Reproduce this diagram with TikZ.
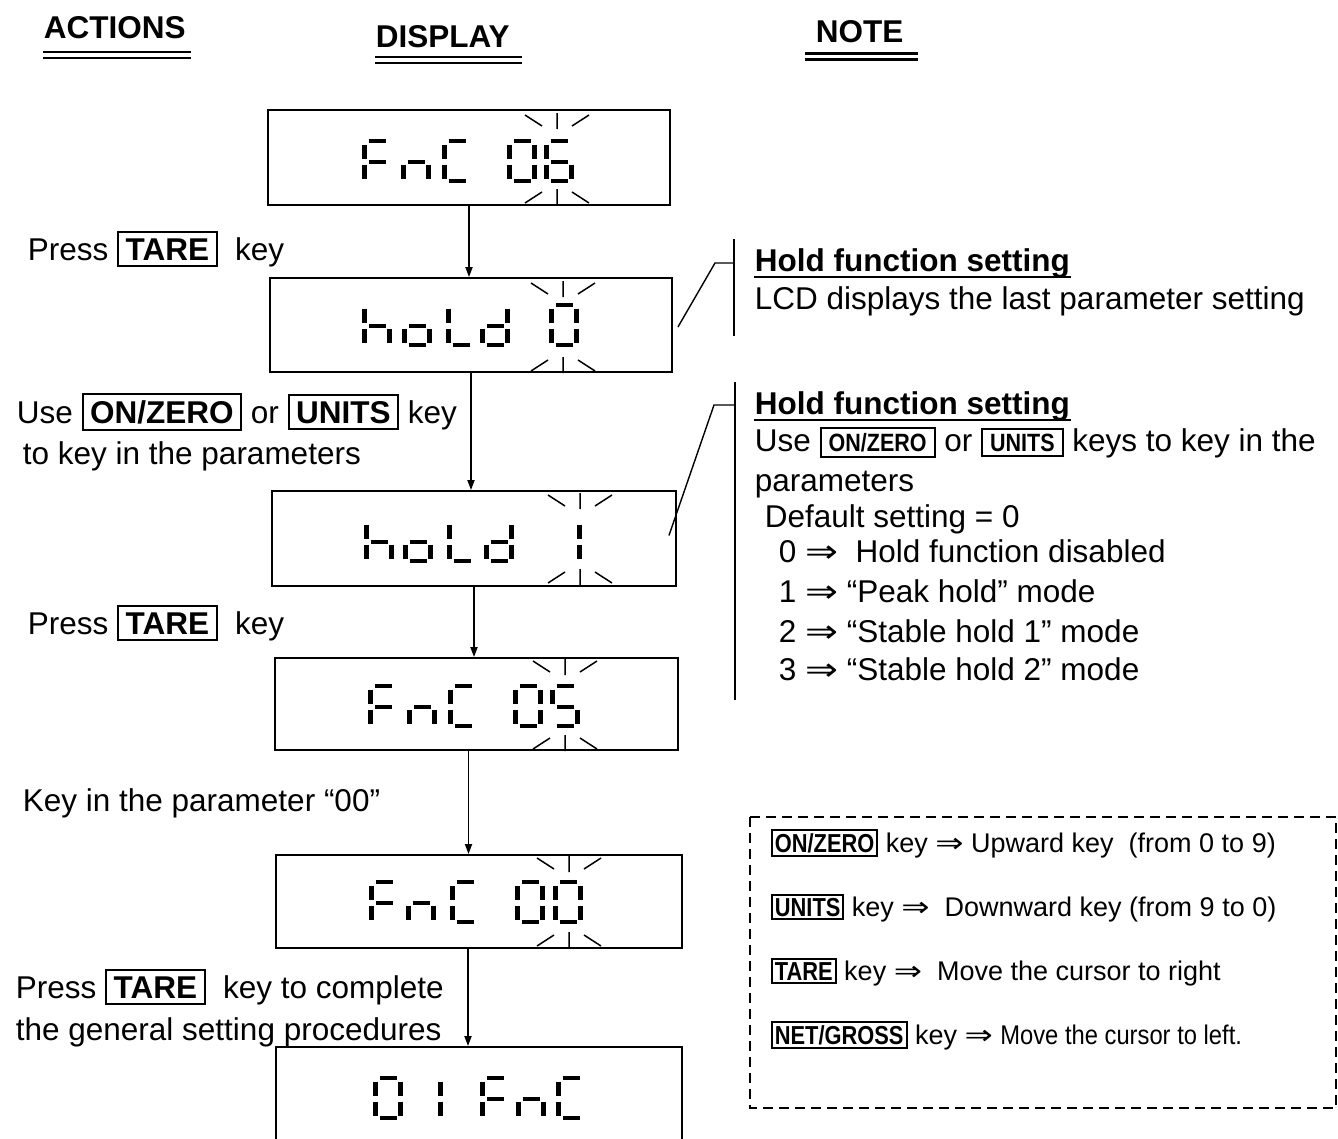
\documentclass[tikz,border=0pt]{standalone}
\usepackage{fontspec}
\setmainfont{Liberation Sans}
\newfontfamily\symfont{DejaVu Sans}
\usetikzlibrary{arrows.meta}

\newcommand{\impl}{{\symfont\scalebox{1.25}[1]{⇒}}}
\newcommand{\keyb}[1]{{\setlength{\fboxsep}{5pt}\setlength{\fboxrule}{2pt}\fbox{\hspace{1.5pt}\textbf{#1}\hspace{1.5pt}}}}
\newcommand{\keyn}[1]{{\fontsize{25}{25}\selectfont\setlength{\fboxsep}{4pt}\setlength{\fboxrule}{2pt}\fbox{\hspace{3pt}\scalebox{0.86}[1]{\textbf{#1}}\hspace{3pt}}}}
\newcommand{\keyl}[1]{{\fontsize{26}{26}\selectfont\setlength{\fboxsep}{2pt}\setlength{\fboxrule}{2pt}\fbox{\scalebox{0.84}[1]{\textbf{#1}}}}}
\newcommand{\lcdchar}[3]{\foreach \s in {#3}{\pic at (#1,#2) {seg\s};}}

\tikzset{
  seg/.style={line width=4.5pt},
  sega/.pic={\draw[seg] (-8.5,-20) -- (8.5,-20);},
  segb/.pic={\draw[seg] (12.5,-16.5) -- (12.5,-2.5);},
  segc/.pic={\draw[seg] (12.5,3.5) -- (12.5,17.5);},
  segd/.pic={\draw[seg] (-8.5,20) -- (8.5,20);},
  sege/.pic={\draw[seg] (-12.5,3.5) -- (-12.5,17.5);},
  segf/.pic={\draw[seg] (-12.5,-16.5) -- (-12.5,-2.5);},
  segg/.pic={\draw[seg] (-8.5,1) -- (8.5,1);},
  blink/.pic={\draw[line width=1.5pt] (-32,-44) -- (-15,-33) (0,-46) -- (0,-30) (15,-33) -- (32,-44)
    (-32,44) -- (-15,33) (0,46) -- (0,30) (15,33) -- (32,44);}
}

\begin{document}
\begin{tikzpicture}[x=1pt,y=-1pt,line width=1.8pt,
  txt/.style={anchor=base west,inner sep=0pt,font=\fontsize{31.5}{36}\selectfont},
  head/.style={anchor=base west,inner sep=0pt,font=\fontsize{31.5}{36}\selectfont\bfseries},
  leg/.style={anchor=base west,inner sep=0pt,font=\fontsize{27}{30}\selectfont},
  lcd/.style={draw,line width=1.9pt,minimum width=402pt,inner sep=0pt},
  flow/.style={-{Triangle[length=10pt,width=7pt]}},
  dbl/.style={double,double distance=3.5pt,line width=2.4pt},
  callout/.style={line width=1.4pt}]
  \useasboundingbox (0,0) rectangle (1338,1138);
  \node[head] (hact) at (43,38) {ACTIONS};
  \node[head] (hdis) at (375,47) {DISPLAY};
  \node[head] (hnot) at (815,42) {NOTE};
  \draw[dbl] (43,55) -- (191,55);
  \draw[dbl] (375,60) -- (522,60);
  \draw[dbl] (805,56.5) -- (918,56.5);

  \node[lcd,minimum height=95pt] (d1) at (469,157.5) {};
  \node[lcd,minimum height=94pt] (d2) at (471,325) {};
  \node[lcd,minimum height=95pt,minimum width=404pt] (d3) at (474,538.5) {};
  \node[lcd,minimum height=92pt,minimum width=403pt] (d4) at (476.5,704) {};
  \node[lcd,minimum height=93pt,minimum width=406pt] (d5) at (479,901.5) {};
  \node[lcd,minimum height=100pt,minimum width=406pt] (d6) at (479,1097) {};

  \lcdchar{377}{161}{a,e,f,g} \lcdchar{416}{161}{c,e,g} \lcdchar{457}{161}{a,d,e,f}
  \lcdchar{522}{161}{a,b,c,d,e,f} \lcdchar{559}{161}{a,c,d,e,f,g}
  \pic at (557,159) {blink};
  \lcdchar{377}{325}{c,e,f,g} \lcdchar{417}{325}{c,d,e,g} \lcdchar{461}{325}{d,e,f}
  \lcdchar{495}{325}{b,c,d,e,g} \lcdchar{564}{325}{a,b,c,d,e,f}
  \pic at (563,327) {blink};
  \lcdchar{379}{541}{c,e,f,g} \lcdchar{418}{541}{c,d,e,g} \lcdchar{462}{541}{d,e,f}
  \lcdchar{499}{541}{b,c,d,e,g} \lcdchar{567}{541}{b,c}
  \pic at (580,539) {blink};
  \lcdchar{383}{706}{a,e,f,g} \lcdchar{422}{706}{c,e,g} \lcdchar{463}{706}{a,d,e,f}
  \lcdchar{528}{706}{a,b,c,d,e,f} \lcdchar{565}{706}{a,c,d,f,g}
  \pic at (565,705) {blink};
  \lcdchar{384}{902}{a,e,f,g} \lcdchar{421}{902}{c,e,g} \lcdchar{465}{902}{a,d,e,f}
  \lcdchar{530}{902}{a,b,c,d,e,f} \lcdchar{568}{902}{a,b,c,d,e,f}
  \pic at (569,902) {blink};
  \lcdchar{388}{1098}{a,b,c,d,e,f} \lcdchar{428}{1098}{b,c} \lcdchar{495}{1098}{a,e,f,g}
  \lcdchar{531}{1098}{c,e,g} \lcdchar{571}{1098}{a,d,e,f}

  \draw[flow] (d1.south) -- (d1.south |- d2.north);
  \draw[flow] (d2.south) -- (d2.south |- d3.north);
  \draw[flow] (d3.south) -- (d3.south |- d4.north);
  \draw[flow] ([xshift=-8pt]d4.south) -- ([xshift=-8pt]d4.south |- d5.north);
  \draw[flow] ([xshift=-11pt]d5.south) -- ([xshift=-11pt]d5.south |- d6.north);

  \node[txt] (t1) at (27,260) {Press \keyb{TARE}\ \ key};
  \node[txt] (t2) at (16,423) {Use \keyb{ON/ZERO} or \keyb{UNITS} key};
  \node[txt] (t3) at (22,464) {to key in the parameters};
  \node[txt] (t4) at (27,634) {Press \keyb{TARE}\ \ key};
  \node[txt] (t5) at (22,811) {Key in the parameter “00”};
  \node[txt] (t6) at (15,998) {Press \keyb{TARE}\ \ key to complete};
  \node[txt] (t7) at (15,1040) {the general setting procedures};

  \node[txt,font=\fontsize{31.5}{36}\selectfont\bfseries] (n1) at (754,271) {Hold function setting};
  \draw[line width=2.4pt] ([yshift=-6pt]n1.base west) -- ([yshift=-6pt]n1.base east);
  \node[txt] (n2) at (754,309) {LCD displays the last parameter setting};
  \draw[callout] (734,239) -- (734,336);
  \coordinate (c1) at (734,263);
  \draw[callout] ([xshift=5pt,yshift=-2pt]d2.east) -- (715,263) -- (c1);

  \node[txt,font=\fontsize{31.5}{36}\selectfont\bfseries] (n3) at (754,414) {Hold function setting};
  \draw[line width=2.4pt] ([yshift=-6pt]n3.base west) -- ([yshift=-6pt]n3.base east);
  \node[txt] (n4) at (754,451) {Use \keyn{ON/ZERO} or \keyn{UNITS} keys to key in the};
  \node[txt] (n5) at (754,491) {parameters};
  \node[txt] (n6) at (764,527) {Default setting = 0};
  \node[txt] (n7) at (778,562) {0 \impl\ \ Hold function disabled};
  \node[txt] (n8) at (778,602) {1 \impl{} “Peak hold” mode};
  \node[txt] (n9) at (778,642) {2 \impl{} “Stable hold 1” mode};
  \node[txt] (n10) at (778,680) {3 \impl{} “Stable hold 2” mode};
  \draw[callout] (735,382) -- (735,700);
  \coordinate (c2) at (735,405);
  \draw[callout] ([xshift=-8pt,yshift=3pt]d3.east) -- (714,405) -- (c2);

  \draw[dashed,dash pattern=on 10pt off 6pt] (750,817) rectangle (1336,1108);
  \node[leg] (l1) at (770,852) {\keyl{ON/ZERO} key \impl{} Upward key\ \ (from 0 to 9)};
  \node[leg] (l2) at (770,916) {\keyl{UNITS} key \impl\ \ Downward key (from 9 to 0)};
  \node[leg] (l3) at (770,980) {\keyl{TARE} key \impl\ \ Move the cursor to right};
  \node[leg] (l4) at (770,1044) {\keyl{NET/GROSS} key \impl{} \scalebox{0.88}[1]{Move the cursor to left.}};
\end{tikzpicture}
\end{document}
